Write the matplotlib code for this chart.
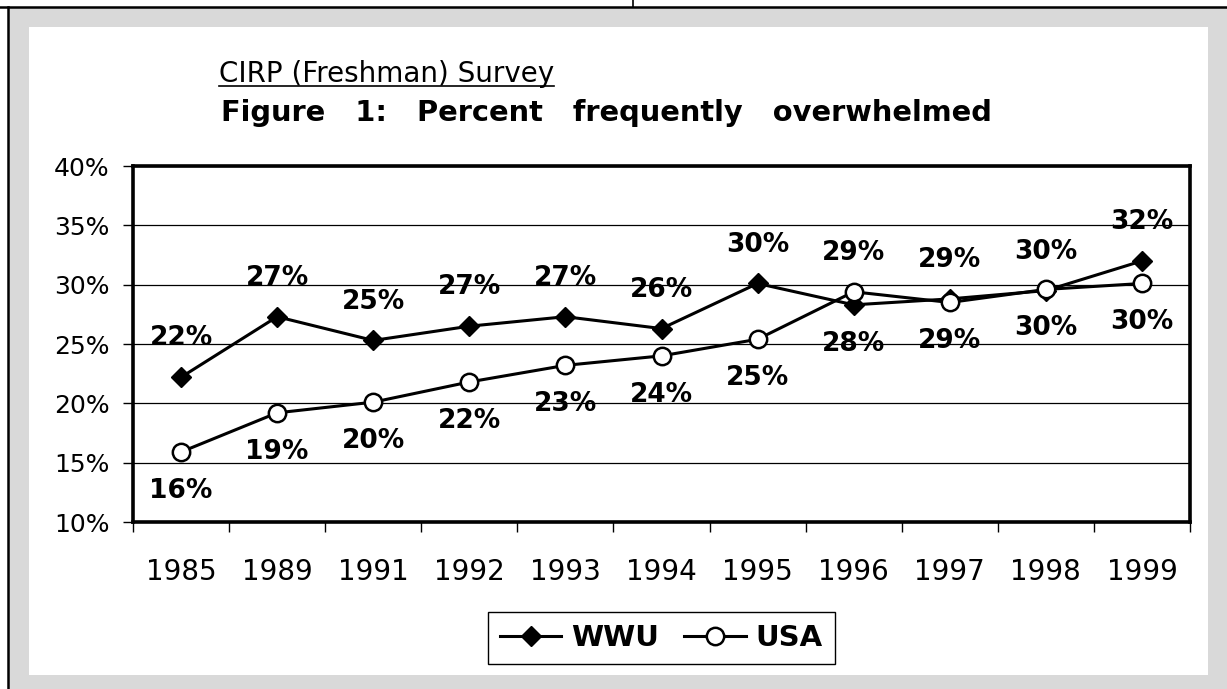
import matplotlib
matplotlib.use('Agg')
import matplotlib.pyplot as plt
from matplotlib.lines import Line2D
from matplotlib.patches import Rectangle

# ---- data ----
years = ['1985', '1989', '1991', '1992', '1993', '1994', '1995', '1996', '1997', '1998', '1999']
wwu = [22.2, 27.3, 25.3, 26.5, 27.3, 26.3, 30.1, 28.3, 28.8, 29.5, 32.0]
usa = [15.9, 19.2, 20.1, 21.8, 23.2, 24.0, 25.4, 29.4, 28.5, 29.6, 30.1]
wwu_labels = ['22%', '27%', '25%', '27%', '27%', '26%', '30%', '28%', '29%', '30%', '32%']
usa_labels = ['16%', '19%', '20%', '22%', '23%', '24%', '25%', '29%', '29%', '30%', '30%']
ytick_vals = [10, 15, 20, 25, 30, 35, 40]
ytick_labels = ['10%', '15%', '20%', '25%', '30%', '35%', '40%']
subtitle = 'CIRP (Freshman) Survey'
title = 'Figure   1:   Percent   frequently   overwhelmed'
series_names = ['WWU', 'USA']
# label placement (style): True = above the point
wwu_above = [True, True, True, True, True, True, True, False, True, True, True]

W, H = 1227, 689
fig = plt.figure(figsize=(W / 100, H / 100), dpi=100)
fig.patch.set_facecolor('white')

def fx(px):
    return px / W

def fy(py):
    return 1 - py / H

# background frame
fig.patches.append(Rectangle((fx(8), 0), 1 - fx(8), fy(8), transform=fig.transFigure,
                             facecolor='#d9d9d9', edgecolor='none', zorder=-20))
fig.patches.append(Rectangle((fx(29), fy(675)), fx(1208) - fx(29), fy(27) - fy(675),
                             transform=fig.transFigure, facecolor='white', edgecolor='none', zorder=-19))
fig.lines.append(Line2D([0, 1], [fy(7), fy(7)], transform=fig.transFigure, color='black', lw=1.8, zorder=-5))
fig.lines.append(Line2D([fx(8), fx(8)], [0, fy(7)], transform=fig.transFigure, color='black', lw=1.8, zorder=-5))
fig.lines.append(Line2D([fx(633), fx(633)], [fy(7), 1], transform=fig.transFigure, color='black', lw=1.2, zorder=-5))

ax = fig.add_axes([fx(133), fy(522), fx(1190) - fx(133), fy(166) - fy(522)])
ax.set_zorder(2)
ax.set_facecolor('white')
x = list(range(len(years)))

ax.plot(x, wwu, color='black', lw=2.2, marker='D', ms=10.5, mfc='black', mec='black',
        zorder=4, label=series_names[0], clip_on=False)
ax.plot(x, usa, color='black', lw=2.2, marker='o', ms=12.5, mfc='white', mec='black', mew=1.8,
        zorder=4, label=series_names[1], clip_on=False)

off = 28
for i in x:
    a = wwu_above[i]
    ax.annotate(wwu_labels[i], (i, wwu[i]), xytext=(0, off if a else -off), textcoords='offset points',
                ha='center', va='center', fontsize=19, fontweight='bold', zorder=5)
    ax.annotate(usa_labels[i], (i, usa[i]), xytext=(0, -off if a else off), textcoords='offset points',
                ha='center', va='center', fontsize=19, fontweight='bold', zorder=5)

ax.set_xlim(-0.5, len(years) - 0.5)
ax.set_ylim(10, 40)
ax.set_yticks(ytick_vals)
ax.set_yticklabels(ytick_labels, fontsize=18)
ax.yaxis.grid(True, color='black', lw=0.9)
ax.set_axisbelow(True)

ax.set_xticks(x)
ax.set_xticklabels(years, fontsize=20)
ax.set_xticks([i - 0.5 for i in range(len(years) + 1)], minor=True)
ax.tick_params(axis='x', which='major', length=0, pad=26)
ax.tick_params(axis='x', which='minor', length=7, width=1, direction='out')
ax.tick_params(axis='y', which='major', length=7, width=1, direction='out', pad=10)

for s in ax.spines.values():
    s.set_linewidth(2.6)
    s.set_color('black')

# titles
sub = fig.text(fx(219), fy(82), subtitle, fontsize=20, ha='left', va='baseline')
fig.text(fx(221), fy(121), title, fontsize=20.8, fontweight='bold', ha='left', va='baseline')

fig.canvas.draw()
r = fig.canvas.get_renderer()
bb = sub.get_window_extent(r).transformed(fig.transFigure.inverted())
fig.lines.append(Line2D([bb.x0, bb.x1], [fy(86), fy(86)], transform=fig.transFigure, color='black', lw=1.2))

leg = ax.legend(loc='center', bbox_to_anchor=(fx(661.5), fy(638)), bbox_transform=fig.transFigure,
                ncol=2, frameon=True, fancybox=False, edgecolor='black', framealpha=1,
                prop={'weight': 'bold', 'size': 21}, handlelength=2.1, handletextpad=0.35,
                columnspacing=0.85, borderpad=0.42, borderaxespad=0)
leg.get_frame().set_linewidth(1.0)

fig.savefig('out.png', dpi=100, facecolor='white')
